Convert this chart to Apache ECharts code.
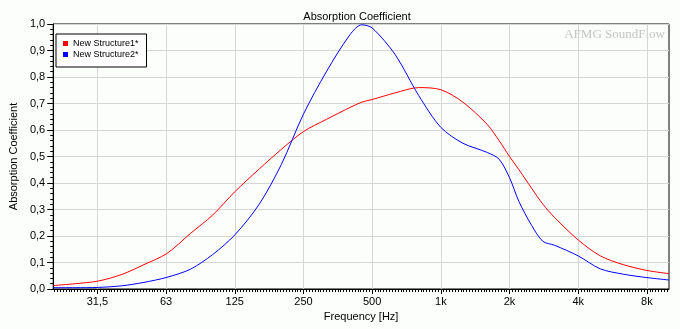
<!DOCTYPE html>
<html><head><meta charset="utf-8">
<script src="https://cdn.jsdelivr.net/npm/echarts@6/dist/echarts.min.js"></script>
<style>html,body{margin:0;padding:0;background:#fcfefc}#c{width:680px;height:329px}</style>
</head><body><div id="c"></div>
<script>
// Frequencies in Hz
const freqs = [20,25,31.5,40,50,63,80,100,125,160,200,250,315,400,450,500,630,800,1000,1250,1600,1800,2000,2200,2500,2800,3150,4000,5000,6300,8000,10000];
const structure1 = [0.013,0.020,0.030,0.055,0.092,0.134,0.21,0.279,0.367,0.453,0.527,0.594,0.64,0.685,0.705,0.715,0.74,0.76,0.752,0.705,0.62,0.56,0.50,0.45,0.38,0.32,0.27,0.185,0.125,0.092,0.07,0.058];
const structure2 = [0.005,0.005,0.006,0.012,0.025,0.044,0.075,0.13,0.204,0.32,0.47,0.66,0.82,0.96,0.997,0.985,0.885,0.73,0.61,0.55,0.515,0.49,0.42,0.33,0.24,0.18,0.165,0.125,0.076,0.056,0.043,0.034];
const seriesNames = ['New Structure1*','New Structure2*'];
const tickFreqs = [31.25,62.5,125,250,500,1000,2000,4000,8000];
const tickLabels = ['31,5','63','125','250','500','1k','2k','4k','8k'];

const L = Math.log10;
const FONT = '"Liberation Sans", Arial, sans-serif';
const xMin = L(20), xMax = L(10000);
const majors = tickFreqs.map(L);
const minors = [];
for (let i = -135; i <= 79; i++) minors.push(L(1000 * Math.pow(2, i / 24)));

const chart = echarts.init(document.getElementById('c'));
chart.setOption({
  animation: false,
  backgroundColor: '#fcfefc',
  title: {
    text: 'Absorption Coefficient', left: 357, top: 11, textAlign: 'center', padding: 0,
    textStyle: {fontSize: 11, fontWeight: 'normal', color: '#000', fontFamily: FONT}
  },
  graphic: [{
    type: 'text', right: 15, top: 28, silent: true,
    style: {text: 'AFMG SoundFlow', font: '13px "Liberation Serif", serif', fill: '#c4c4c4'}
  }],
  legend: {
    orient: 'vertical', left: 56, top: 34, padding: [5, 8, 8, 7],
    itemWidth: 5, itemHeight: 5, itemGap: 2, icon: 'rect',
    backgroundColor: '#ffffff', borderColor: '#000', borderWidth: 1, borderRadius: 0,
    textStyle: {fontSize: 9, color: '#000', fontFamily: FONT},
    data: seriesNames
  },
  grid: {left: 46, top: 24, right: 11, bottom: 40, show: true, borderColor: '#000', borderWidth: 1, backgroundColor: 'transparent'},
  xAxis: [{
    type: 'value', min: xMin, max: xMax,
    axisLine: {onZero: false, lineStyle: {color: '#000', width: 1}},
    axisTick: {customValues: majors, length: 5, lineStyle: {color: '#000'}},
    axisLabel: {customValues: majors, margin: 7, color: '#000', fontSize: 11, fontFamily: FONT,
      formatter: v => { const i = majors.findIndex(m => Math.abs(m - v) < 1e-6); return i >= 0 ? tickLabels[i] : ''; }},
    splitLine: {show: true, lineStyle: {color: '#d6d6d6', width: 1}},
    name: 'Frequency [Hz]', nameLocation: 'middle', nameGap: 21,
    nameTextStyle: {fontSize: 11, color: '#000', fontFamily: FONT}
  }, {
    type: 'value', min: xMin, max: xMax, position: 'bottom',
    axisLine: {show: false, onZero: false},
    axisTick: {customValues: minors, length: 3, lineStyle: {color: '#000'}},
    axisLabel: {show: false},
    splitLine: {show: false}
  }],
  yAxis: {
    type: 'value', min: 0, max: 1, interval: 0.1,
    axisLine: {show: true, lineStyle: {color: '#000', width: 1}},
    axisTick: {show: true, length: 6, lineStyle: {color: '#000'}},
    minorTick: {show: true, splitNumber: 5, length: 3, lineStyle: {color: '#000'}},
    axisLabel: {margin: 8, color: '#000', fontSize: 11, fontFamily: FONT,
      formatter: v => v.toFixed(1).replace('.', ',')},
    splitLine: {show: true, lineStyle: {color: '#d6d6d6', width: 1}},
    name: 'Absorption Coefficient', nameLocation: 'middle', nameGap: 27,
    nameTextStyle: {fontSize: 11, color: '#000', fontFamily: FONT}
  },
  series: [{
    name: seriesNames[0], type: 'line', xAxisIndex: 0, showSymbol: false, smooth: 0.3,
    color: '#ff0000', lineStyle: {width: 1, color: '#ff0000'},
    data: freqs.map((f, i) => [L(f), structure1[i]])
  }, {
    name: seriesNames[1], type: 'line', xAxisIndex: 0, showSymbol: false, smooth: 0.3,
    color: '#0000ff', lineStyle: {width: 1, color: '#0000ff'},
    data: freqs.map((f, i) => [L(f), structure2[i]])
  }]
});
</script></body></html>
